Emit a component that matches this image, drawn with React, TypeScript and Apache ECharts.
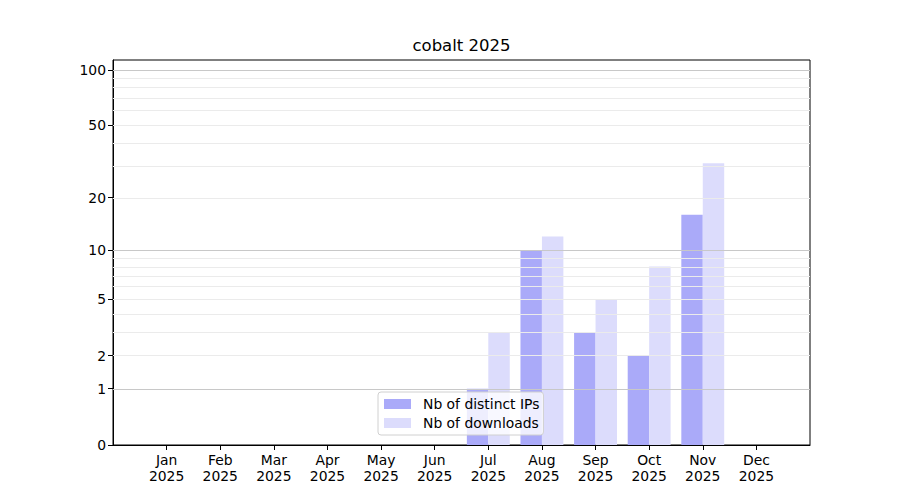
import React, { useEffect, useRef } from 'react';
import * as echarts from 'echarts';

const months = ['Jan', 'Feb', 'Mar', 'Apr', 'May', 'Jun', 'Jul', 'Aug', 'Sep', 'Oct', 'Nov', 'Dec'];
const year = '2025';
const distinctIPs = [0, 0, 0, 0, 0, 0, 1, 10, 3, 2, 16, 0];
const downloads = [0, 0, 0, 0, 0, 0, 3, 12, 5, 8, 31, 0];
const yTickValues = [0, 1, 2, 5, 10, 20, 50, 100];
const majorGrid = [1, 10, 100];
const minorGrid = [2, 3, 4, 5, 6, 7, 8, 9, 20, 30, 40, 50, 60, 70, 80, 90];
const yMaxValue = 113;

// log10(v + 1) scale, as in the original
const tf = (v: number) => Math.log10(v + 1);
const FONT = 'DejaVu Sans';

const App: React.FC = () => {
  const chartRef = useRef<HTMLDivElement>(null);

  useEffect(() => {
    if (!chartRef.current) return;
    const chart = echarts.init(chartRef.current, null, { renderer: 'svg' });

    // one empty slot on each side of the months
    const cats = ['', ...months.map(m => `${m}\n${year}`), ''];
    const pad = (arr: number[]) => [null, ...arr.map(tf), null];

    const gridLines = [
      ...minorGrid.map(v => ({ yAxis: tf(v), lineStyle: { color: '#ebebeb', width: 1, type: 'solid' } })),
      ...majorGrid.map(v => ({ yAxis: tf(v), lineStyle: { color: '#c8c8c8', width: 1, type: 'solid' } })),
    ];

    chart.setOption({
      animation: false,
      textStyle: { fontFamily: FONT },
      title: {
        text: 'cobalt 2025',
        left: 461.5,
        textAlign: 'center',
        top: 37,
        padding: 0,
        textStyle: { fontFamily: FONT, fontSize: 16.5, fontWeight: 'normal', color: '#000' },
      },
      grid: {
        left: 113,
        right: 90,
        top: 60,
        bottom: 55,
        show: true,
        borderColor: '#000',
        borderWidth: 1,
        backgroundColor: 'transparent',
      },
      legend: {
        left: 378,
        top: 392,
        orient: 'vertical',
        icon: 'rect',
        itemWidth: 27,
        itemHeight: 10,
        itemGap: 5,
        padding: [5, 4, 5, 6],
        borderColor: '#d0d0d0',
        borderWidth: 1,
        borderRadius: 3,
        backgroundColor: 'rgba(255,255,255,0.8)',
        textStyle: { fontFamily: FONT, fontSize: 13.9, color: '#000', padding: [0, 0, 0, 7] },
        z: 10,
      },
      xAxis: {
        type: 'category',
        data: cats,
        boundaryGap: false,
        axisLine: { show: true, lineStyle: { color: '#000', width: 1 } },
        axisTick: {
          show: true,
          inside: false,
          length: 5,
          interval: (idx: number) => idx > 0 && idx < cats.length - 1,
          lineStyle: { color: '#000' },
        },
        axisLabel: {
          interval: 0,
          color: '#000',
          fontFamily: FONT,
          fontSize: 13.9,
          lineHeight: 16,
          margin: 7,
        },
        splitLine: { show: false },
      },
      yAxis: {
        type: 'value',
        min: 0,
        max: tf(yMaxValue),
        axisLine: { show: true, lineStyle: { color: '#000', width: 1 } },
        axisTick: {
          show: true,
          inside: false,
          length: 5,
          customValues: yTickValues.map(tf),
          lineStyle: { color: '#000' },
        },
        axisLabel: {
          customValues: yTickValues.map(tf),
          formatter: (val: number) => String(Math.round(Math.pow(10, val) - 1)),
          color: '#000',
          fontFamily: FONT,
          fontSize: 13.9,
          margin: 7,
        },
        splitLine: { show: false },
      },
      series: [
        {
          name: 'Nb of distinct IPs',
          type: 'bar',
          data: pad(distinctIPs),
          barWidth: '40%',
          barGap: '0%',
          itemStyle: { color: '#aaaaf9' },
        },
        {
          name: 'Nb of downloads',
          type: 'bar',
          data: pad(downloads),
          barWidth: '40%',
          barGap: '0%',
          itemStyle: { color: '#dcdcfc' },
          markLine: {
            silent: true,
            symbol: 'none',
            label: { show: false },
            z: 5,
            data: gridLines,
          },
        },
      ],
    });

    return () => {
      chart.dispose();
    };
  }, []);

  return (
    <div
      ref={chartRef}
      style={{ position: 'fixed', left: 0, top: 0, width: '900px', height: '500px', background: '#fff' }}
    ></div>
  );
};

export default App;
